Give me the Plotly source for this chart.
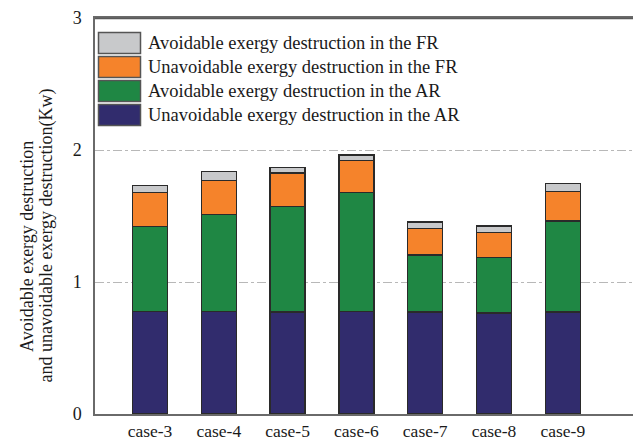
import plotly.graph_objects as go

categories = ["case-3", "case-4", "case-5", "case-6", "case-7", "case-8", "case-9"]
unavoid_ar = [0.775, 0.775, 0.773, 0.775, 0.772, 0.765, 0.772]
avoid_ar = [0.644, 0.738, 0.800, 0.904, 0.433, 0.422, 0.690]
unavoid_fr = [0.260, 0.257, 0.253, 0.240, 0.202, 0.189, 0.222]
avoid_fr = [0.051, 0.068, 0.040, 0.043, 0.048, 0.048, 0.061]

series_names = [
    "Avoidable exergy destruction in the FR",
    "Unavoidable exergy destruction in the FR",
    "Avoidable exergy destruction in the AR",
    "Unavoidable exergy destruction in the AR",
]
series_values = [avoid_fr, unavoid_fr, avoid_ar, unavoid_ar]
colors = ["#c8c9cb", "#f5832b", "#1f8744", "#312c6d"]
y_ticks = [0, 1, 2, 3]
y_title_lines = ["Avoidable exergy destruction", "and unavoidable exergy destruction(Kw)"]

FONT = "Liberation Serif, Times New Roman, serif"

fig = go.Figure()
for name, vals, col in reversed(list(zip(series_names, series_values, colors))):
    fig.add_trace(go.Bar(
        x=list(range(len(categories))), y=vals, name=name,
        marker=dict(color=col, line=dict(color="#2a2a2a", width=1.5)),
        width=0.51, showlegend=False,
    ))

W, H = 633, 439
L, R, T, B = 95, 0, 18, 25
pw, ph = W - L - R, H - T - B

def px_x(x):
    return (x - L) / pw

def px_y(y):
    return (H - B - y) / ph

row_tops = [32.5, 56.5, 80.5, 104.5]
for name, col, top in zip(series_names, colors, row_tops):
    fig.add_shape(type="rect", xref="paper", yref="paper",
                  x0=px_x(98.5), x1=px_x(140.5), y0=px_y(top + 21), y1=px_y(top),
                  fillcolor=col, line=dict(color="#555555", width=1.5))
    fig.add_annotation(xref="paper", yref="paper", x=px_x(146), y=px_y(top + 10.5),
                       text=name, showarrow=False, xanchor="left", yanchor="middle",
                       font=dict(family=FONT, size=18.5, color="#1a1a1a"))

# top frame line
fig.add_shape(type="line", xref="paper", yref="paper", x0=0, x1=1.02,
              y0=px_y(18.5), y1=px_y(18.5), layer="above",
              line=dict(color="#5a5a5a", width=1.5))

for txt, cx, cy in zip(y_title_lines, [27, 45.5], [247, 236]):
    fig.add_annotation(xref="paper", yref="paper", x=px_x(cx), y=px_y(cy),
                       text=txt, showarrow=False, textangle=-90,
                       xanchor="center", yanchor="middle",
                       font=dict(family=FONT, size=18, color="#1a1a1a"))

fig.update_layout(
    width=W, height=H, margin=dict(l=L, r=R, t=T, b=B, autoexpand=False),
    barmode="stack", plot_bgcolor="white", paper_bgcolor="white",
    font=dict(family=FONT, size=18, color="#1a1a1a"),
)
fig.update_xaxes(
    range=[(L - 150) / 68.8, (W - 150) / 68.8],
    tickmode="array", tickvals=list(range(len(categories))), ticktext=categories,
    showgrid=False, zeroline=False, automargin=False,
    showline=True, linecolor="#6a6a6a", linewidth=1.5, mirror=True,
    ticks="", ticklabelstandoff=0,
    tickfont=dict(family=FONT, size=17.5),
)
fig.update_yaxes(
    range=[0, 3], tickmode="array", tickvals=y_ticks,
    showgrid=True, gridcolor="#b8b8b8", griddash="dashdot", gridwidth=1,
    zeroline=False, showline=True, linecolor="#6a6a6a", linewidth=1.5,
    automargin=False,
    ticks="outside", ticklen=8, tickcolor="rgba(0,0,0,0)",
    tickfont=dict(family=FONT, size=18),
)

fig.write_html("out.html", config={"displayModeBar": False},
               post_script="document.body.style.margin='0';document.body.style.overflow='hidden';")
